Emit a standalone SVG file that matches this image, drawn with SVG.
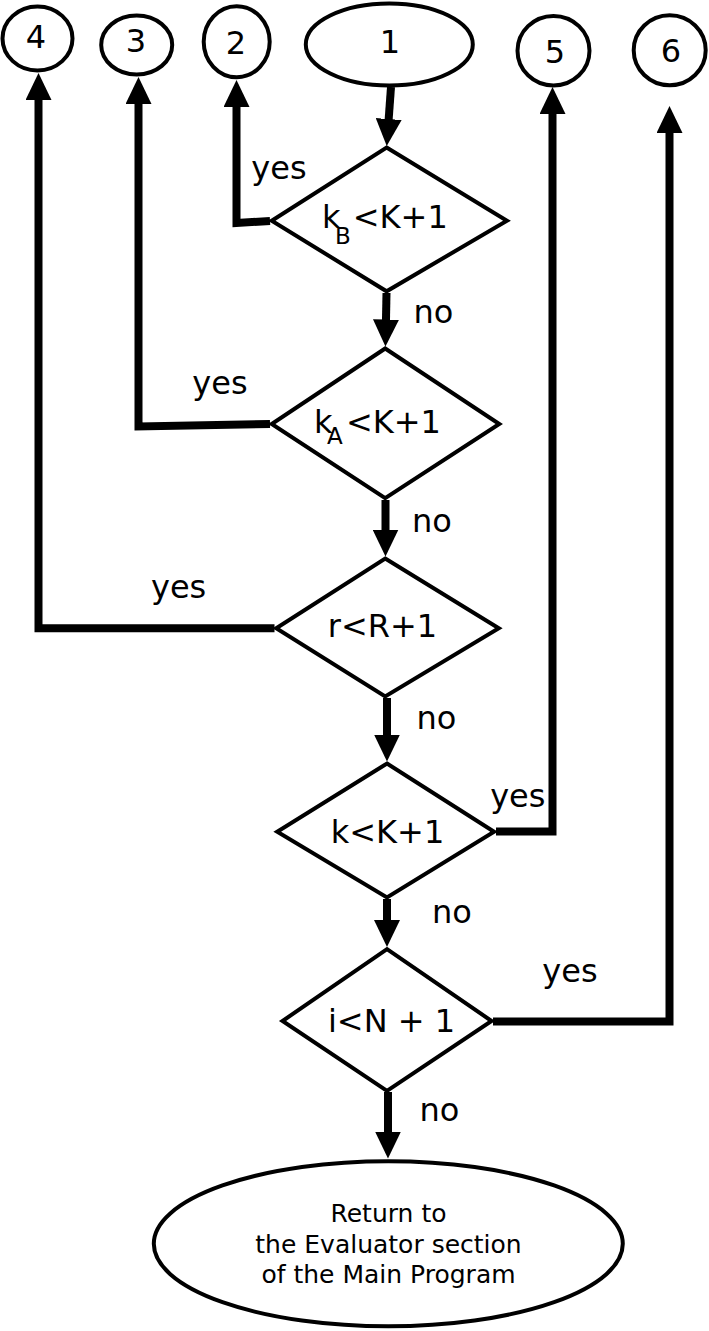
<svg xmlns="http://www.w3.org/2000/svg" width="709" height="1331" viewBox="0 0 709 1331">
<style>
  .bg { fill: #ffffff; }
  .shape { fill: #ffffff; stroke: #000000; stroke-width: 4; stroke-linejoin: miter; }
  .conn { fill: none; stroke: #000000; stroke-width: 8; stroke-linejoin: miter; stroke-linecap: butt; marker-end: url(#arrow); }
  text { font-family: "DejaVu Sans", "Liberation Sans", sans-serif; fill: #000000; }
  .lbl { font-size: 32px; }
  .num { font-size: 32px; text-anchor: middle; }
  .mid { font-size: 32px; text-anchor: middle; }
  .sub { font-size: 23px; }
  .end { font-size: 25px; text-anchor: middle; }
</style>
<defs>
  <marker id="arrow" markerUnits="userSpaceOnUse" viewBox="0 0 27 26" markerWidth="27" markerHeight="26" refX="15" refY="13" orient="auto">
    <path d="M0,0 L27,13 L0,26 z" fill="#000000"/>
  </marker>
</defs>
<rect class="bg" x="0" y="0" width="709" height="1331"/>

<g id="connectors">
  <path class="conn" d="M391,87 L387.6,134"/>
  <path class="conn" d="M270,221 L236.5,223 L236.5,92"/>
  <path class="conn" d="M386.5,293 L385.7,334.5"/>
  <path class="conn" d="M270,424 L138.5,426.5 L138.5,89"/>
  <path class="conn" d="M385.5,500 L385.5,544.5"/>
  <path class="conn" d="M274.5,628.3 L38.5,628.3 L38.5,85"/>
  <path class="conn" d="M387,698 L387,749.5"/>
  <path class="conn" d="M496,831.5 L552.5,831.5 L552.5,99"/>
  <path class="conn" d="M387,899 L387,935"/>
  <path class="conn" d="M493,1021.5 L669.5,1021.5 L669.5,118"/>
  <path class="conn" d="M388,1092 L388,1146.5"/>
  <text class="lbl" x="279" y="179" text-anchor="middle">yes</text>
  <text class="lbl" x="433.5" y="323.3" text-anchor="middle">no</text>
  <text class="lbl" x="220" y="394" text-anchor="middle">yes</text>
  <text class="lbl" x="432" y="531.7" text-anchor="middle">no</text>
  <text class="lbl" x="178.6" y="598.3" text-anchor="middle">yes</text>
  <text class="lbl" x="436.5" y="729.3" text-anchor="middle">no</text>
  <text class="lbl" x="517.8" y="807.3" text-anchor="middle">yes</text>
  <text class="lbl" x="452" y="923.3" text-anchor="middle">no</text>
  <text class="lbl" x="570" y="981.7" text-anchor="middle">yes</text>
  <text class="lbl" x="439.5" y="1121" text-anchor="middle">no</text>
</g>

<g id="node4">
  <ellipse class="shape" cx="37.5" cy="38.5" rx="35" ry="32"/>
  <text class="num" x="36" y="48.3">4</text>
</g>
<g id="node3">
  <ellipse class="shape" cx="136.7" cy="45" rx="35.5" ry="29.5"/>
  <text class="num" x="136" y="51.7">3</text>
</g>
<g id="node2">
  <ellipse class="shape" cx="236.7" cy="41.7" rx="33" ry="35.5"/>
  <text class="num" x="236" y="54">2</text>
</g>
<g id="node1">
  <ellipse class="shape" cx="389.3" cy="44.5" rx="83.5" ry="41"/>
  <text class="num" x="390" y="52.7">1</text>
</g>
<g id="node5">
  <ellipse class="shape" cx="553.5" cy="50.7" rx="36" ry="34.8"/>
  <text class="num" x="555" y="63.3">5</text>
</g>
<g id="node6">
  <ellipse class="shape" cx="669.7" cy="50.3" rx="36" ry="35"/>
  <text class="num" x="671" y="61.7">6</text>
</g>

<g id="decisionKB">
  <polygon class="shape" points="386.6,147.5 507,220.7 386.6,291.3 271.7,220.7"/>
  <text class="lbl"><tspan x="322" y="227.7">k</tspan><tspan class="sub" x="335" y="244">B</tspan><tspan x="352.8" y="227.7">&lt;K+1</tspan></text>
</g>
<g id="decisionKA">
  <polygon class="shape" points="385.2,348.5 499.3,424 385.2,498.2 271.7,424"/>
  <text class="lbl"><tspan x="314" y="432.7">k</tspan><tspan class="sub" x="327" y="443.5">A</tspan><tspan x="346" y="432.7">&lt;K+1</tspan></text>
</g>
<g id="decisionR">
  <polygon class="shape" points="385.2,558.5 498.8,628.3 385.2,696.5 276.2,628.3"/>
  <text class="mid" x="382.5" y="636.7">r&lt;R+1</text>
</g>
<g id="decisionK">
  <polygon class="shape" points="387,763.5 494.1,831.7 387,897.5 277.2,831.7"/>
  <text class="mid" x="387.5" y="843.3">k&lt;K+1</text>
</g>
<g id="decisionI">
  <polygon class="shape" points="387,949.1 491.6,1021 387,1090.9 282.5,1021"/>
  <text class="mid" x="391.5" y="1031.7" xml:space="preserve">i&lt;N + 1</text>
</g>

<g id="endNode">
  <ellipse class="shape" cx="388.3" cy="1243.8" rx="234.5" ry="82.5"/>
  <text class="end" x="388.5" y="1221.7">Return to</text>
  <text class="end" x="388.5" y="1253">the Evaluator section</text>
  <text class="end" x="388.5" y="1282.7">of the Main Program</text>
</g>
</svg>
